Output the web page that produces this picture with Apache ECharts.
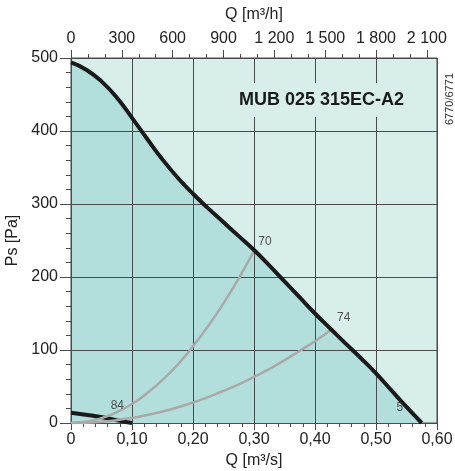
<!DOCTYPE html>
<html>
<head>
<meta charset="utf-8">
<script src="https://cdn.jsdelivr.net/npm/echarts@6/dist/echarts.min.js"></script>
<style>
html,body{margin:0;padding:0;background:#fff;}
#chart{width:455px;height:471px;}
</style>
</head>
<body>
<div id="chart"></div>
<script>
// ---- data ----
const fanQ  = [0, 0.025, 0.05, 0.075, 0.10, 0.125, 0.15, 0.175, 0.20, 0.225, 0.25, 0.275, 0.30, 0.325, 0.35, 0.375, 0.40, 0.425, 0.45, 0.475, 0.50, 0.525, 0.55, 0.575];
const fanPs = [494, 484, 468, 446, 418, 389, 361, 336, 314, 294, 275, 256, 237, 216, 194, 172, 150, 129.5, 109, 89, 68, 45, 22, 0];

const lowQ  = [0, 0.03, 0.06, 0.08, 0.10];
const lowPs = [14, 10.5, 6.5, 3, 0];

const sys70Q  = [0, 0.025, 0.05, 0.075, 0.10, 0.125, 0.15, 0.175, 0.20, 0.225, 0.25, 0.275, 0.30];
const sys70Ps = [0, 1.6, 6.6, 14.7, 26, 41, 59, 80, 105, 133, 164, 198, 236];

const sys74Q  = [0, 0.025, 0.05, 0.075, 0.10, 0.125, 0.15, 0.175, 0.20, 0.225, 0.25, 0.275, 0.30, 0.325, 0.35, 0.375, 0.40, 0.427];
const sys74Ps = [0, 0.4, 1.8, 3.9, 7, 11, 15.8, 21.5, 28, 35.5, 44, 53, 63, 74, 86, 99, 112, 128];

const markTexts = ['70', '74', '5', '84'];
const markQ     = [0.318, 0.447, 0.539, 0.076];
const markPs    = [249, 144, 20.5, 23.3];

const qsTicks = [0, 0.1, 0.2, 0.3, 0.4, 0.5, 0.6];
const qhTicks = [0, 300, 600, 900, 1200, 1500, 1800, 2100];
const qhMinorTicks = [0, 100, 200, 300, 400, 500, 600, 700, 800, 900, 1000, 1100, 1200, 1300, 1400, 1500, 1600, 1700, 1800, 1900, 2000, 2100];
const psTicks = [0, 100, 200, 300, 400, 500];

const titleText = 'MUB 025 315EC-A2';
const codeText = '6770/6771';

// ---- build ----
const zip = (a, b) => a.map((v, i) => [v, b[i]]);
const FONT = '"Liberation Sans", Arial, sans-serif';
const LIGHT = '#d8eeeb';
const DARK = '#b2dfdb';
const GRIDC = '#4a4a4a';
const TXT = '#222';

function fmtQs(v) {
  if (v === 0) return '0';
  return v.toFixed(2).replace('.', ',');
}
function fmtQh(v) {
  if (v >= 1000) return Math.floor(v / 1000) + ' ' + String(v % 1000).padStart(3, '0');
  return String(v);
}

const chart = echarts.init(document.getElementById('chart'), null, {renderer: 'canvas'});
chart.setOption({
  animation: false,
  textStyle: {fontFamily: FONT},
  title: {
    text: titleText,
    left: 233, top: 83,
    padding: [8, 6],
    backgroundColor: LIGHT,
    textStyle: {fontFamily: FONT, fontSize: 18, fontWeight: 'bold', color: '#1a1a1a'}
  },
  graphic: [{
    type: 'text', x: 450, y: 99, rotation: Math.PI / 2,
    style: {text: codeText, fill: '#333', font: '11px ' + FONT, align: 'center', verticalAlign: 'middle'}
  }],
  grid: {
    left: 71, right: 18, top: 58, bottom: 48,
    outerBoundsMode: 'none',
    show: true, backgroundColor: LIGHT, borderColor: GRIDC, borderWidth: 1
  },
  xAxis: [{
    type: 'value', position: 'bottom', min: 0, max: 0.6, interval: 0.1, z: 3,
    name: 'Q [m³/s]', nameLocation: 'middle', nameGap: 29,
    nameTextStyle: {fontSize: 16, color: TXT, fontFamily: FONT, verticalAlign: 'top'},
    axisLine: {show: true, lineStyle: {color: GRIDC, width: 1}},
    axisTick: {show: true, inside: false, length: 7, lineStyle: {color: GRIDC}, customValues: qsTicks},
    minorTick: {show: true, splitNumber: 5, length: 4, lineStyle: {color: GRIDC}},
    axisLabel: {fontSize: 16, color: TXT, margin: 9, formatter: fmtQs, customValues: qsTicks},
    splitLine: {show: true, lineStyle: {color: GRIDC, width: 1}}
  }, {
    type: 'value', position: 'top', min: 0, max: 2160, interval: 300, z: 3,
    name: 'Q [m³/h]', nameLocation: 'middle', nameGap: 35,
    nameTextStyle: {fontSize: 16, color: TXT, fontFamily: FONT},
    axisLine: {show: true, lineStyle: {color: GRIDC, width: 1}},
    axisTick: {show: true, inside: false, length: 8, lineStyle: {color: GRIDC}, customValues: qhTicks},
    axisLabel: {fontSize: 16, color: TXT, margin: 11, customValues: qhTicks,
      formatter: v => (v % 300 === 0 ? fmtQh(v) : '')},
    splitLine: {show: false}
  }, {
    type: 'value', position: 'top', min: 0, max: 2160, interval: 100, z: 3,
    axisLine: {show: false},
    axisTick: {show: true, inside: false, length: 4, lineStyle: {color: GRIDC}, customValues: qhMinorTicks},
    axisLabel: {show: false},
    splitLine: {show: false}
  }],
  yAxis: [{
    type: 'value', min: 0, max: 500, interval: 100, z: 3,
    name: 'Ps [Pa]', nameLocation: 'middle', nameGap: 46,
    nameTextStyle: {fontSize: 16, color: TXT, fontFamily: FONT},
    axisLine: {show: true, lineStyle: {color: GRIDC, width: 1}},
    axisTick: {show: true, inside: false, length: 11, lineStyle: {color: GRIDC}, customValues: psTicks},
    minorTick: {show: true, splitNumber: 5, length: 5, lineStyle: {color: GRIDC}},
    axisLabel: {fontSize: 16, color: TXT, margin: 13, customValues: psTicks},
    splitLine: {show: true, lineStyle: {color: GRIDC, width: 1}}
  }],
  series: [{
    name: 'fill', type: 'line', xAxisIndex: 0, yAxisIndex: 0, z: 1,
    data: zip(fanQ, fanPs), smooth: true, showSymbol: false, silent: true,
    lineStyle: {width: 0, opacity: 0},
    areaStyle: {color: DARK, opacity: 1}
  }, {
    name: 'low', type: 'line', xAxisIndex: 0, yAxisIndex: 0, z: 4,
    data: zip(lowQ, lowPs), smooth: true, showSymbol: false,
    lineStyle: {color: '#1a1a1a', width: 4}
  }, {
    name: 'sys70', type: 'line', xAxisIndex: 0, yAxisIndex: 0, z: 5,
    data: zip(sys70Q, sys70Ps), smooth: true, showSymbol: false,
    lineStyle: {color: '#a9a9a9', width: 2.5}
  }, {
    name: 'sys74', type: 'line', xAxisIndex: 0, yAxisIndex: 0, z: 5,
    data: zip(sys74Q, sys74Ps), smooth: true, showSymbol: false,
    lineStyle: {color: '#a9a9a9', width: 2.5}
  }, {
    name: 'fan', type: 'line', xAxisIndex: 0, yAxisIndex: 0, z: 6,
    data: zip(fanQ, fanPs), smooth: true, showSymbol: false,
    lineStyle: {color: '#1a1a1a', width: 4}
  }, {
    name: 'marks', type: 'scatter', xAxisIndex: 0, yAxisIndex: 0, z: 7,
    data: markQ.map((q, i) => [q, markPs[i], markTexts[i]]),
    symbolSize: 1, itemStyle: {color: 'rgba(0,0,0,0)'},
    label: {show: true, position: 'inside', formatter: p => p.data[2],
      fontSize: 12, color: '#2a2a2a', fontFamily: FONT}
  }]
});
</script>
</body>
</html>
